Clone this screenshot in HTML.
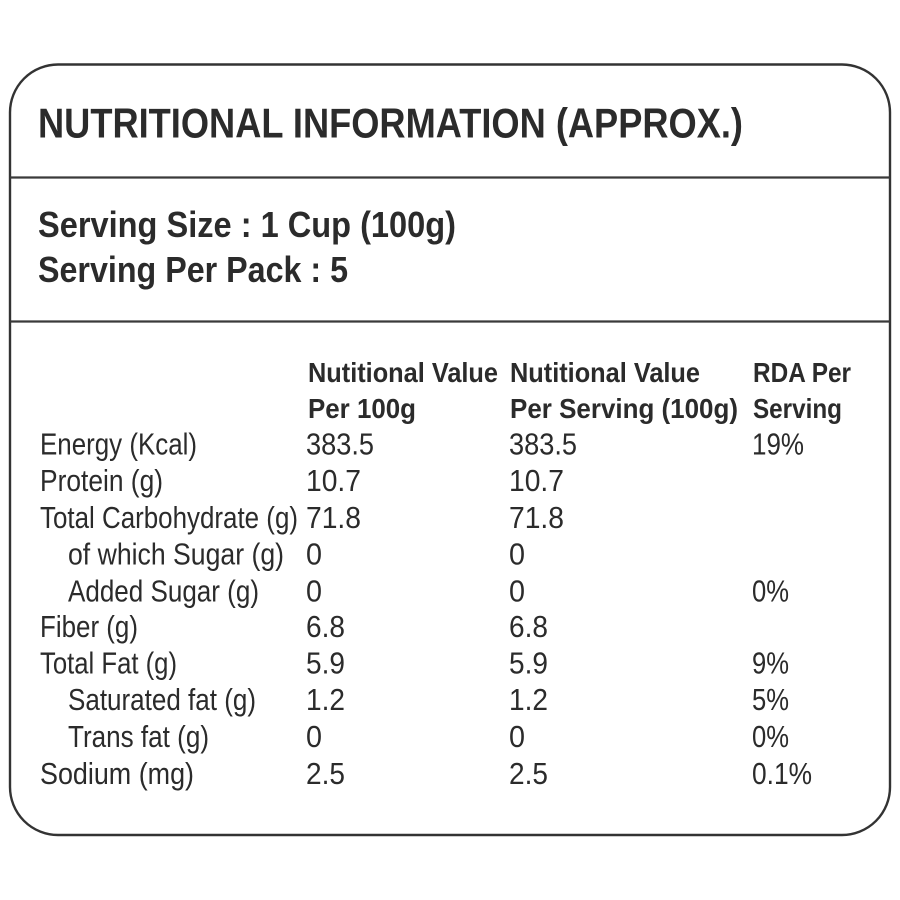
<!DOCTYPE html>
<html>
<head>
<meta charset="utf-8">
<style>
  html, body { margin: 0; padding: 0; background: #ffffff; }
  body { width: 900px; height: 900px; overflow: hidden; }
  svg { display: block; }
  text { font-family: "Liberation Sans", Arial, sans-serif; fill: #2b2b2b; }
  .b { font-weight: bold; }
  .t { font-size: 42px; }
  .s { font-size: 36px; }
  .h { font-size: 28px; }
  .r { font-size: 30.5px; }
</style>
</head>
<body>
<svg width="900" height="900" viewBox="0 0 900 900" xmlns="http://www.w3.org/2000/svg">
  <rect x="0" y="0" width="900" height="900" fill="#ffffff"/>
  <!-- outer box -->
  <rect x="10" y="64.5" width="880" height="770.5" rx="48" ry="48" fill="none" stroke="#333333" stroke-width="2.4"/>
  <line x1="10" y1="177.5" x2="890" y2="177.5" stroke="#3a3a3a" stroke-width="2.2"/>
  <line x1="10" y1="321.5" x2="890" y2="321.5" stroke="#3a3a3a" stroke-width="2.2"/>

  <!-- title -->
  <text class="b t" x="38" y="137.5" textLength="705" lengthAdjust="spacingAndGlyphs">NUTRITIONAL INFORMATION (APPROX.)</text>

  <!-- serving -->
  <text class="b s" x="38" y="237" textLength="418" lengthAdjust="spacingAndGlyphs">Serving Size : 1 Cup (100g)</text>
  <text class="b s" x="38" y="282" textLength="310" lengthAdjust="spacingAndGlyphs">Serving Per Pack : 5</text>

  <!-- headers -->
  <text class="b h" x="308" y="382" textLength="190" lengthAdjust="spacingAndGlyphs">Nutitional Value</text>
  <text class="b h" x="308" y="418" textLength="108" lengthAdjust="spacingAndGlyphs">Per 100g</text>
  <text class="b h" x="510" y="382" textLength="190" lengthAdjust="spacingAndGlyphs">Nutitional Value</text>
  <text class="b h" x="510" y="418" textLength="228" lengthAdjust="spacingAndGlyphs">Per Serving (100g)</text>
  <text class="b h" x="753" y="382" textLength="98" lengthAdjust="spacingAndGlyphs">RDA Per</text>
  <text class="b h" x="753" y="418" textLength="89" lengthAdjust="spacingAndGlyphs">Serving</text>

  <!-- labels -->
  <text class="r" x="40" y="454.3" textLength="157" lengthAdjust="spacingAndGlyphs">Energy (Kcal)</text>
  <text class="r" x="40" y="491" textLength="123" lengthAdjust="spacingAndGlyphs">Protein (g)</text>
  <text class="r" x="40" y="528" textLength="258" lengthAdjust="spacingAndGlyphs">Total Carbohydrate (g)</text>
  <text class="r" x="68" y="564.5" textLength="216" lengthAdjust="spacingAndGlyphs">of which Sugar (g)</text>
  <text class="r" x="68" y="601.5" textLength="191" lengthAdjust="spacingAndGlyphs">Added Sugar (g)</text>
  <text class="r" x="40" y="637" textLength="98" lengthAdjust="spacingAndGlyphs">Fiber (g)</text>
  <text class="r" x="40" y="673.5" textLength="137" lengthAdjust="spacingAndGlyphs">Total Fat (g)</text>
  <text class="r" x="68" y="710" textLength="188" lengthAdjust="spacingAndGlyphs">Saturated fat (g)</text>
  <text class="r" x="68" y="747" textLength="141" lengthAdjust="spacingAndGlyphs">Trans fat (g)</text>
  <text class="r" x="40" y="784" textLength="154" lengthAdjust="spacingAndGlyphs">Sodium (mg)</text>

  <!-- column 2 values -->
  <text class="r" x="306" y="454.3" textLength="68" lengthAdjust="spacingAndGlyphs">383.5</text>
  <text class="r" x="306" y="491" textLength="55" lengthAdjust="spacingAndGlyphs">10.7</text>
  <text class="r" x="306" y="528" textLength="55" lengthAdjust="spacingAndGlyphs">71.8</text>
  <text class="r" x="306" y="564.5" textLength="16" lengthAdjust="spacingAndGlyphs">0</text>
  <text class="r" x="306" y="601.5" textLength="16" lengthAdjust="spacingAndGlyphs">0</text>
  <text class="r" x="306" y="637" textLength="39" lengthAdjust="spacingAndGlyphs">6.8</text>
  <text class="r" x="306" y="673.5" textLength="39" lengthAdjust="spacingAndGlyphs">5.9</text>
  <text class="r" x="306" y="710" textLength="39" lengthAdjust="spacingAndGlyphs">1.2</text>
  <text class="r" x="306" y="747" textLength="16" lengthAdjust="spacingAndGlyphs">0</text>
  <text class="r" x="306" y="784" textLength="39" lengthAdjust="spacingAndGlyphs">2.5</text>

  <!-- column 3 values -->
  <text class="r" x="509" y="454.3" textLength="68" lengthAdjust="spacingAndGlyphs">383.5</text>
  <text class="r" x="509" y="491" textLength="55" lengthAdjust="spacingAndGlyphs">10.7</text>
  <text class="r" x="509" y="528" textLength="55" lengthAdjust="spacingAndGlyphs">71.8</text>
  <text class="r" x="509" y="564.5" textLength="16" lengthAdjust="spacingAndGlyphs">0</text>
  <text class="r" x="509" y="601.5" textLength="16" lengthAdjust="spacingAndGlyphs">0</text>
  <text class="r" x="509" y="637" textLength="39" lengthAdjust="spacingAndGlyphs">6.8</text>
  <text class="r" x="509" y="673.5" textLength="39" lengthAdjust="spacingAndGlyphs">5.9</text>
  <text class="r" x="509" y="710" textLength="39" lengthAdjust="spacingAndGlyphs">1.2</text>
  <text class="r" x="509" y="747" textLength="16" lengthAdjust="spacingAndGlyphs">0</text>
  <text class="r" x="509" y="784" textLength="39" lengthAdjust="spacingAndGlyphs">2.5</text>

  <!-- column 4 values -->
  <text class="r" x="752" y="454.3" textLength="52" lengthAdjust="spacingAndGlyphs">19%</text>
  <text class="r" x="752" y="601.5" textLength="37" lengthAdjust="spacingAndGlyphs">0%</text>
  <text class="r" x="752" y="673.5" textLength="37" lengthAdjust="spacingAndGlyphs">9%</text>
  <text class="r" x="752" y="710" textLength="37" lengthAdjust="spacingAndGlyphs">5%</text>
  <text class="r" x="752" y="747" textLength="37" lengthAdjust="spacingAndGlyphs">0%</text>
  <text class="r" x="752" y="784" textLength="60" lengthAdjust="spacingAndGlyphs">0.1%</text>
</svg>
</body>
</html>
